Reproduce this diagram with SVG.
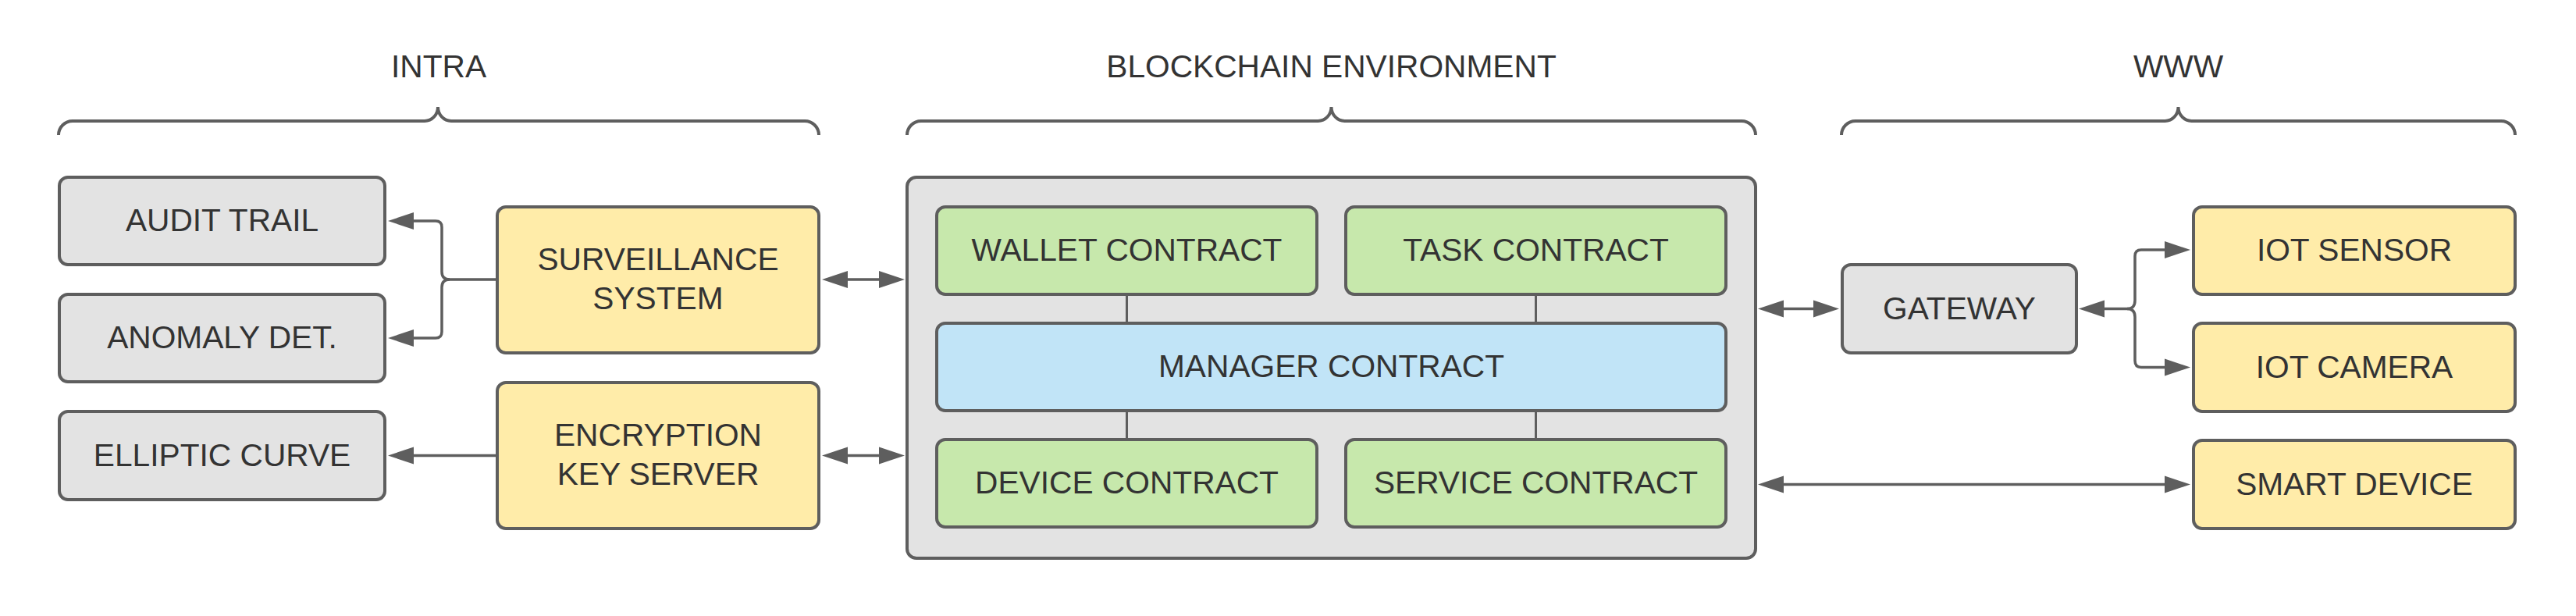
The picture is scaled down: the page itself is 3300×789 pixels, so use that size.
<svg xmlns="http://www.w3.org/2000/svg" width="3300" height="789" viewBox="0 0 3300 789">
<style>
.box{stroke:#5e5e5e;stroke-width:4}
.gray{fill:#e3e3e3}
.yellow{fill:#ffeca9}
.green{fill:#c7e8ac}
.blue{fill:#c1e4f7}
.lbl{font-family:"Liberation Sans",Arial,sans-serif;font-size:40.7px;fill:#333333;text-anchor:middle}
.brace{fill:none;stroke:#5e5e5e;stroke-width:4}
.conn{fill:none;stroke:#5e5e5e;stroke-width:3.5}
.thin{fill:none;stroke:#5e5e5e;stroke-width:3}
</style>
<defs>
<marker id="ah" markerUnits="userSpaceOnUse" markerWidth="34" markerHeight="24" viewBox="0 -12 34 24" refX="0" refY="0" orient="auto-start-reverse">
<path d="M0,-11 L33,0 L0,11 Z" fill="#5e5e5e"/>
</marker>
</defs>
<rect width="3300" height="789" fill="#ffffff"/>

<g id="headers">
<text class="lbl" x="562" y="99">INTRA</text>
<path class="brace" d="M75,173 A18,18 0 0 1 93,155 H544 A17,18 0 0 0 561,137 A17,18 0 0 0 578,155 H1031 A18,18 0 0 1 1049,173"/>
<text class="lbl" x="1705.5" y="99">BLOCKCHAIN ENVIRONMENT</text>
<path class="brace" d="M1162,173 A18,18 0 0 1 1180,155 H1688.5 A17,18 0 0 0 1705.5,137 A17,18 0 0 0 1722.5,155 H2231 A18,18 0 0 1 2249,173"/>
<text class="lbl" x="2790.5" y="99">WWW</text>
<path class="brace" d="M2359,173 A18,18 0 0 1 2377,155 H2773.5 A17,18 0 0 0 2790.5,137 A17,18 0 0 0 2807.5,155 H3204 A18,18 0 0 1 3222,173"/>
</g>

<g id="audit-trail">
<rect class="box gray" x="76" y="227" width="417" height="112" rx="11"/>
<text class="lbl" x="284.5" y="296">AUDIT TRAIL</text>
</g>
<g id="anomaly-det">
<rect class="box gray" x="76" y="377" width="417" height="112" rx="11"/>
<text class="lbl" x="284.5" y="446">ANOMALY DET.</text>
</g>
<g id="elliptic-curve">
<rect class="box gray" x="76" y="527" width="417" height="113" rx="11"/>
<text class="lbl" x="284.5" y="596.5">ELLIPTIC CURVE</text>
</g>
<g id="surveillance-system">
<rect class="box yellow" x="637" y="265" width="412" height="187" rx="11"/>
<text class="lbl" x="843" y="346">SURVEILLANCE</text>
<text class="lbl" x="843" y="396">SYSTEM</text>
</g>
<g id="encryption-key-server">
<rect class="box yellow" x="637" y="490" width="412" height="187" rx="11"/>
<text class="lbl" x="843" y="571">ENCRYPTION</text>
<text class="lbl" x="843" y="621">KEY SERVER</text>
</g>

<g id="blockchain-environment">
<rect class="box gray" x="1162" y="227" width="1087" height="488" rx="12"/>
</g>
<g id="wallet-contract">
<rect class="box green" x="1200" y="265" width="487" height="112" rx="11"/>
<text class="lbl" x="1443.5" y="334">WALLET CONTRACT</text>
</g>
<g id="task-contract">
<rect class="box green" x="1724" y="265" width="487" height="112" rx="11"/>
<text class="lbl" x="1967.5" y="334">TASK CONTRACT</text>
</g>
<g id="manager-contract">
<rect class="box blue" x="1200" y="414" width="1011" height="112" rx="11"/>
<text class="lbl" x="1705.5" y="483">MANAGER CONTRACT</text>
</g>
<g id="device-contract">
<rect class="box green" x="1200" y="563" width="487" height="112" rx="11"/>
<text class="lbl" x="1443.5" y="632">DEVICE CONTRACT</text>
</g>
<g id="service-contract">
<rect class="box green" x="1724" y="563" width="487" height="112" rx="11"/>
<text class="lbl" x="1967.5" y="632">SERVICE CONTRACT</text>
</g>

<g id="gateway">
<rect class="box gray" x="2360" y="339" width="300" height="113" rx="11"/>
<text class="lbl" x="2510" y="408.5">GATEWAY</text>
</g>
<g id="iot-sensor">
<rect class="box yellow" x="2810" y="265" width="412" height="112" rx="11"/>
<text class="lbl" x="3016" y="334">IOT SENSOR</text>
</g>
<g id="iot-camera">
<rect class="box yellow" x="2810" y="414" width="412" height="113" rx="11"/>
<text class="lbl" x="3016" y="483.5">IOT CAMERA</text>
</g>
<g id="smart-device">
<rect class="box yellow" x="2810" y="564" width="412" height="113" rx="11"/>
<text class="lbl" x="3016" y="633.5">SMART DEVICE</text>
</g>

<g id="connectors">
<path class="conn" marker-end="url(#ah)" d="M637,358 H576 Q566,358 566,348 V291 Q566,283 558,283 H530"/>
<path class="conn" marker-end="url(#ah)" d="M576,358 Q566,358 566,368 V425 Q566,433 558,433 H530"/>
<path class="conn" marker-end="url(#ah)" d="M637,583.5 H530"/>
<path class="conn" marker-start="url(#ah)" marker-end="url(#ah)" d="M1086,358 H1126"/>
<path class="conn" marker-start="url(#ah)" marker-end="url(#ah)" d="M1086,583.5 H1126"/>
<path class="conn" marker-start="url(#ah)" marker-end="url(#ah)" d="M2285,395.5 H2323"/>
<path class="conn" marker-start="url(#ah)" d="M2696,395.5 H2725 Q2735,395.5 2735,385 V328 Q2735,320 2743,320 H2773" marker-end="url(#ah)"/>
<path class="conn" marker-end="url(#ah)" d="M2725,395.5 Q2735,395.5 2735,406 V462 Q2735,470.5 2743,470.5 H2773"/>
<path class="conn" marker-start="url(#ah)" marker-end="url(#ah)" d="M2285,620.5 H2773"/>
<path class="thin" d="M1443.5,377 V414 M1967.5,377 V414 M1443.5,526 V563 M1967.5,526 V563"/>
</g>
</svg>
